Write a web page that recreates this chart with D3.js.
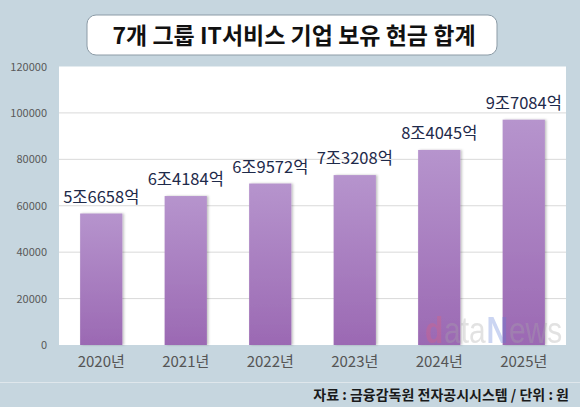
<!DOCTYPE html>
<html>
<head>
<meta charset="utf-8">
<script src="https://cdn.jsdelivr.net/npm/d3@7"></script>
<style>
  body { margin: 0; background: #c6d6df; }
  svg { display: block; font-family: "Noto Sans CJK KR", "Noto Sans", sans-serif; }
</style>
</head>
<body>
<div id="chart"></div>
<script>
var years = ['2020년', '2021년', '2022년', '2023년', '2024년', '2025년'];
// 억 원 단위
var totals = [56658, 64184, 69572, 73208, 84045, 97084];
var valueLabels = ['5조6658억', '6조4184억', '6조9572억', '7조3208억', '8조4045억', '9조7084억'];
var yTicks = [0, 20000, 40000, 60000, 80000, 100000, 120000];

var chartWidth = 580;
var chartHeight = 407;
var plot = {left: 59, right: 566, top: 66.5, bottom: 345};

var svg = d3.select('#chart')
    .append('svg')
    .attr('width', chartWidth)
    .attr('height', chartHeight);

var defs = svg.append('defs');
var grad = defs.append('linearGradient')
    .attr('id', 'barGrad')
    .attr('x1', 0).attr('y1', 0).attr('x2', 0).attr('y2', 1);
grad.append('stop').attr('offset', '0%').attr('stop-color', '#b694cd');
grad.append('stop').attr('offset', '100%').attr('stop-color', '#9b69b3');

defs.append('filter')
    .attr('id', 'barShadow')
    .attr('x', '-20%').attr('y', '-10%').attr('width', '140%').attr('height', '120%')
    .append('feDropShadow')
    .attr('dx', 1.5).attr('dy', 0)
    .attr('stdDeviation', 1.2)
    .attr('flood-color', '#000')
    .attr('flood-opacity', 0.25);

// background
svg.append('rect')
    .attr('width', chartWidth)
    .attr('height', chartHeight)
    .attr('fill', '#c6d6df');

// title box
svg.append('rect')
    .attr('x', 87)
    .attr('y', 15)
    .attr('width', 410)
    .attr('height', 40)
    .attr('rx', 9)
    .attr('fill', '#fff')
    .attr('stroke', '#8c9ba6')
    .attr('stroke-width', 1);

svg.append('text')
    .attr('x', 294)
    .attr('y', 43.5)
    .attr('text-anchor', 'middle')
    .attr('font-size', 23)
    .attr('font-weight', 'bold')
    .attr('fill', '#111')
    .text('7개 그룹 IT서비스 기업 보유 현금 합계');

// plot area
svg.append('rect')
    .attr('x', plot.left)
    .attr('y', plot.top)
    .attr('width', plot.right - plot.left)
    .attr('height', plot.bottom - plot.top)
    .attr('fill', '#fff');

// Create Scales
var scaleX = d3.scaleBand()
    .domain(years)
    .range([plot.left, plot.right])
    .paddingInner(0.5)
    .paddingOuter(0.25);

var scaleY = d3.scaleLinear()
    .domain([0, 120000])
    .range([plot.bottom, plot.top]);

// gridlines
svg.selectAll('.grid')
    .data(yTicks.slice(1, -1))
    .enter()
    .append('line')
    .attr('x1', plot.left)
    .attr('x2', plot.right)
    .attr('y1', function(d) { return scaleY(d); })
    .attr('y2', function(d) { return scaleY(d); })
    .attr('stroke', '#d9d9d9')
    .attr('stroke-width', 1);

// y axis
var yAxis = d3.axisLeft(scaleY)
    .tickValues(yTicks)
    .tickSize(0)
    .tickPadding(0)
    .tickFormat(function(d) { return String(d); });

var gy = svg.append('g')
    .attr('transform', 'translate(47,0)')
    .call(yAxis);
gy.select('.domain').remove();
gy.selectAll('text')
    .attr('font-size', 11)
    .attr('fill', '#595959')
    .attr('font-family', '"Noto Sans CJK KR", sans-serif');

// Create Bars
svg.selectAll('.bar')
    .data(totals)
    .enter()
    .append('rect')
    .attr('class', 'bar')
    .attr('x', function(d, i) { return scaleX(years[i]); })
    .attr('y', function(d) { return scaleY(d); })
    .attr('width', scaleX.bandwidth())
    .attr('height', function(d) { return plot.bottom - scaleY(d); })
    .attr('fill', 'url(#barGrad)')
    .attr('filter', 'url(#barShadow)');

// watermark, drawn over the bars, squeezed to fit 425..563
var wmParts = [
  {t: 'd', c: '#e0607e', w: 'bold'},
  {t: 'ata', c: '#a8a8a8', w: 'normal'},
  {t: 'N', c: '#5f7fd8', w: 'bold'},
  {t: 'ews', c: '#a8a8a8', w: 'normal'}
];
var wm = svg.append('g');
var wmX = 0;
wmParts.forEach(function(p) {
  var t = wm.append('text')
      .attr('x', wmX)
      .attr('y', 0)
      .attr('font-family', '"Liberation Sans", Arial, sans-serif')
      .attr('font-size', 37)
      .attr('font-weight', p.w)
      .attr('fill', p.c)
      .attr('opacity', 0.32)
      .text(p.t);
  wmX += t.node().getComputedTextLength() + 1;
});
wm.attr('transform', 'translate(425,343) scale(' + (138 / wmX) + ',1)');

// value labels
svg.selectAll('.val')
    .data(totals)
    .enter()
    .append('text')
    .attr('class', 'val')
    .attr('x', function(d, i) { return scaleX(years[i]) + scaleX.bandwidth() / 2; })
    .attr('y', function(d) { return scaleY(d) - 11; })
    .attr('text-anchor', 'middle')
    .attr('font-size', 16.5)
    .attr('fill', '#1e2a4a')
    .text(function(d, i) { return valueLabels[i]; });

// x axis
var xAxis = d3.axisBottom(scaleX)
    .tickSize(0)
    .tickPadding(0);

var gx = svg.append('g')
    .attr('transform', 'translate(0,' + plot.bottom + ')')
    .call(xAxis);
gx.select('.domain').remove();
gx.selectAll('text')
    .attr('dy', 0)
    .attr('y', 22)
    .attr('font-size', 15)
    .attr('fill', '#555')
    .attr('font-family', '"Noto Sans CJK KR", sans-serif');

// footer
svg.append('line')
    .attr('x1', 0)
    .attr('x2', chartWidth)
    .attr('y1', 382.5)
    .attr('y2', 382.5)
    .attr('stroke', '#dfe7ec')
    .attr('stroke-width', 1);

svg.append('text')
    .attr('x', 569)
    .attr('y', 400)
    .attr('text-anchor', 'end')
    .attr('font-size', 14)
    .attr('font-weight', 'bold')
    .attr('fill', '#1a1a1a')
    .text('자료 : 금융감독원 전자공시시스템 / 단위 : 원');
</script>
</body>
</html>
